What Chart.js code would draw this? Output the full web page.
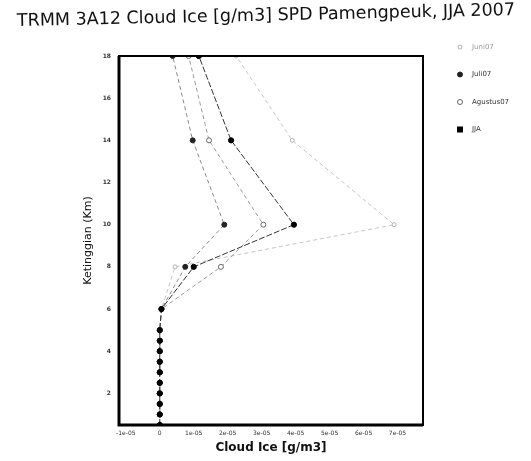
<!DOCTYPE html>
<html><head><meta charset="utf-8">
<script src="https://cdn.jsdelivr.net/npm/chart.js@4"></script>
<style>html,body{margin:0;padding:0;background:#fff}#wrap{width:531px;height:461px;position:relative}</style>
</head><body><div id="wrap"><canvas id="c"></canvas></div>
<script>
// Height levels (km)
const heights = [0.5,1,1.5,2,2.5,3,3.5,4,4.5,5,6,8,10,14,18];
// Cloud ice (g/m3) per level
const juni07    = [0,0,0,0,0,0,0,0,0,0,5e-7,4.5e-6,6.9e-5,3.9e-5,2.25e-5];
const juli07    = [0,0,0,0,0,0,0,0,0,0,5e-7,7.5e-6,1.9e-5,9.7e-6,3.8e-6];
const agustus07 = [0,0,0,0,0,0,0,0,0,0,5e-7,1.8e-5,3.05e-5,1.45e-5,8.5e-6];
const jja       = [0,0,0,0,0,0,0,0,0,0,5e-7,1.0e-5,3.95e-5,2.1e-5,1.15e-5];
const seriesNames = ['Juni07','Juli07','Agustus07','JJA'];
const yTicks = [2,4,6,8,10,12,14,16,18];
const xTicks = [-1e-5,0,1e-5,2e-5,3e-5,4e-5,5e-5,6e-5,7e-5];
const xTickLabels = ['-1e-05','0','1e-05','2e-05','3e-05','4e-05','5e-05','6e-05','7e-05'];
const titleText = 'TRMM 3A12 Cloud Ice [g/m3] SPD Pamengpeuk, JJA 2007';

const pts = arr => arr.map((v,i)=>({x:v, y:heights[i]}));
const styles = [
  {line:'#c4c4c4', fill:'#fff', border:'#b0b0b0', r:2, ps:'circle', dash:[4,3]},
  {line:'#8a8a8a', fill:'#222', border:'#222', r:2.5, ps:'circle', dash:[4,3]},
  {line:'#9a9a9a', fill:'#fff', border:'#666', r:2.5, ps:'circle', dash:[4,3]},
  {line:'#333', fill:'#000', border:'#000', r:2.6, ps:'circle', dash:[6,2], legendPs:'rect'}
];
const allSeries = [juni07, juli07, agustus07, jja];
const datasets = allSeries.map((s,i)=>({
  label: seriesNames[i], data: pts(s), showLine:true,
  borderColor: styles[i].line, borderWidth:1, borderDash: styles[i].dash,
  pointBackgroundColor: styles[i].fill, pointBorderColor: styles[i].border,
  pointBorderWidth:1, pointRadius: styles[i].r, pointStyle: styles[i].ps,
  order: 4-i
}));

const decor = {
  id:'decor',
  afterDraw(chart){
    const {ctx, chartArea:a} = chart;
    ctx.save();
    ctx.strokeStyle = '#000';
    ctx.lineWidth = 2;
    ctx.strokeRect(a.left, a.top, a.right-a.left, a.bottom-a.top);
    ctx.lineWidth = 3;
    ctx.beginPath();
    ctx.moveTo(a.left, a.top); ctx.lineTo(a.left, a.bottom); ctx.lineTo(a.right, a.bottom);
    ctx.stroke();
    // title
    ctx.save();
    ctx.translate(266, 16);
    ctx.rotate(-0.022);
    ctx.font = '17.5px "DejaVu Sans"';
    ctx.fillStyle = '#111';
    ctx.textAlign = 'center'; ctx.textBaseline = 'middle';
    ctx.fillText(titleText, 0, 0);
    ctx.restore();
    // legend
    const lx = 460, ly0 = 47, dy = 27.5;
    ctx.font = '7px "DejaVu Sans"';
    ctx.textAlign = 'left'; ctx.textBaseline = 'middle';
    seriesNames.forEach((n,i)=>{
      const y = ly0 + i*dy, st = styles[i];
      ctx.fillStyle = st.fill; ctx.strokeStyle = st.border; ctx.lineWidth = 1;
      if (st.legendPs === 'rect') { ctx.fillRect(lx-3, y-3, 6, 6); }
      else { ctx.beginPath(); ctx.arc(lx, y, st.r, 0, Math.PI*2); ctx.fill(); ctx.stroke(); }
      ctx.fillStyle = i===0 ? '#999' : '#333';
      ctx.fillText(n, lx+12, y);
    });
    ctx.restore();
  }
};

new Chart(document.getElementById('c'), {
  type:'scatter',
  data:{datasets},
  options:{
    responsive:true, maintainAspectRatio:false, animation:false,
    layout:{padding:{top:56,right:108,bottom:0,left:0}},
    plugins:{legend:{display:false}, tooltip:{enabled:false}, title:{display:false}},
    scales:{
      x:{type:'linear', min:-1.2e-5, max:7.75e-5,
        afterBuildTicks:s=>{s.ticks = xTicks.map(v=>({value:v}));},
        afterFit:s=>{s.height = 36;},
        grid:{display:false, drawTicks:false},
        border:{display:false},
        ticks:{font:{size:6, family:'DejaVu Sans'}, color:'#333', padding:5, maxRotation:0, autoSkip:false,
          callback:(v,i)=>xTickLabels[i]},
        title:{display:true, text:'Cloud Ice [g/m3]', font:{size:12, family:'DejaVu Sans', weight:'600'}, color:'#111', padding:{top:0,bottom:6}}
      },
      y:{type:'linear', min:0.5, max:18,
        afterBuildTicks:s=>{s.ticks = yTicks.map(v=>({value:v}));},
        afterFit:s=>{s.width = 119;},
        grid:{display:false, drawTicks:false},
        border:{display:false},
        ticks:{font:{size:6, family:'DejaVu Sans', weight:'bold'}, color:'#333', padding:8, autoSkip:false,
          callback:v=>String(v)},
        title:{display:true, text:'Ketinggian (Km)', font:{size:11, family:'DejaVu Sans'}, color:'#111', padding:{top:82,bottom:0}}
      }
    }
  },
  plugins:[decor]
});
</script></body></html>
